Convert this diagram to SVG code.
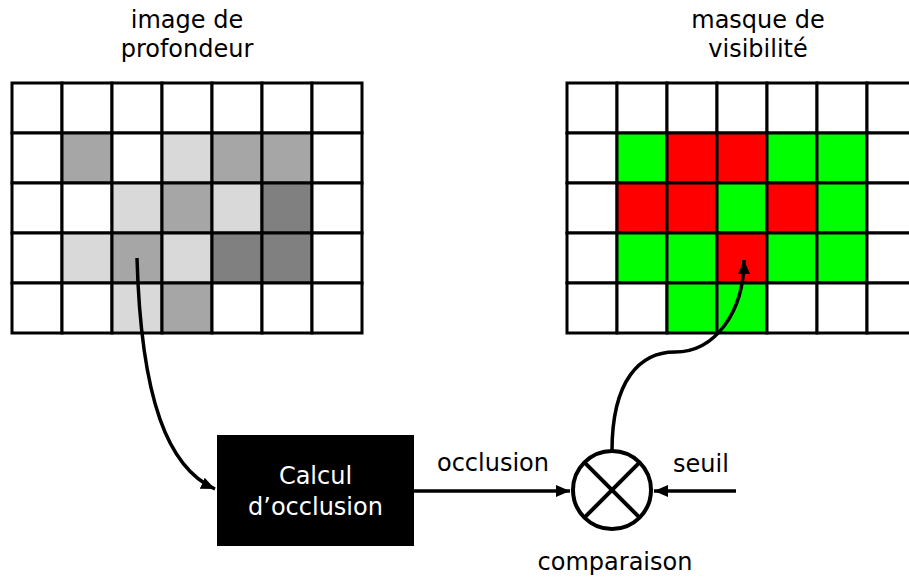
<svg xmlns="http://www.w3.org/2000/svg" width="909" height="578" viewBox="0 0 909 578">
<style>
text{font-family:"DejaVu Sans","Liberation Sans",sans-serif;font-size:24px;fill:#000}
.c{stroke:#000;stroke-width:3}
.w{fill:#fff}.l{fill:#d9d9d9}.m{fill:#a6a6a6}.d{fill:#808080}
.g{fill:#00ff00}.r{fill:#ff0000}
.conn{fill:none;stroke:#000;stroke-width:3.5}
</style>
<defs>
<marker id="ah" markerUnits="userSpaceOnUse" markerWidth="16" markerHeight="14" refX="14" refY="7" orient="auto">
<path d="M0,1 L14,7 L0,13 Z" fill="#000"/>
</marker>
<g id="row0">
<rect class="c w" x="0" y="0" width="50" height="50"/><rect class="c w" x="50" y="0" width="50" height="50"/><rect class="c w" x="100" y="0" width="50" height="50"/><rect class="c w" x="150" y="0" width="50" height="50"/><rect class="c w" x="200" y="0" width="50" height="50"/><rect class="c w" x="250" y="0" width="50" height="50"/><rect class="c w" x="300" y="0" width="50" height="50"/>
</g>
</defs>
<rect width="909" height="578" fill="#fff"/>

<g id="depth-image" transform="translate(12,83)">
<use href="#row0"/>
<rect class="c w" x="0" y="50" width="50" height="50"/><rect class="c m" x="50" y="50" width="50" height="50"/><rect class="c w" x="100" y="50" width="50" height="50"/><rect class="c l" x="150" y="50" width="50" height="50"/><rect class="c m" x="200" y="50" width="50" height="50"/><rect class="c m" x="250" y="50" width="50" height="50"/><rect class="c w" x="300" y="50" width="50" height="50"/>
<rect class="c w" x="0" y="100" width="50" height="50"/><rect class="c w" x="50" y="100" width="50" height="50"/><rect class="c l" x="100" y="100" width="50" height="50"/><rect class="c m" x="150" y="100" width="50" height="50"/><rect class="c l" x="200" y="100" width="50" height="50"/><rect class="c d" x="250" y="100" width="50" height="50"/><rect class="c w" x="300" y="100" width="50" height="50"/>
<rect class="c w" x="0" y="150" width="50" height="50"/><rect class="c l" x="50" y="150" width="50" height="50"/><rect class="c m" x="100" y="150" width="50" height="50"/><rect class="c l" x="150" y="150" width="50" height="50"/><rect class="c d" x="200" y="150" width="50" height="50"/><rect class="c d" x="250" y="150" width="50" height="50"/><rect class="c w" x="300" y="150" width="50" height="50"/>
<rect class="c w" x="0" y="200" width="50" height="50"/><rect class="c w" x="50" y="200" width="50" height="50"/><rect class="c l" x="100" y="200" width="50" height="50"/><rect class="c m" x="150" y="200" width="50" height="50"/><rect class="c w" x="200" y="200" width="50" height="50"/><rect class="c w" x="250" y="200" width="50" height="50"/><rect class="c w" x="300" y="200" width="50" height="50"/>
</g>
<g id="depth-title">
<text x="187" y="28" text-anchor="middle">image de</text>
<text x="187" y="57" text-anchor="middle">profondeur</text>
</g>

<g id="visibility-mask" transform="translate(567,83)">
<use href="#row0"/>
<rect class="c w" x="0" y="50" width="50" height="50"/><rect class="c g" x="50" y="50" width="50" height="50"/><rect class="c r" x="100" y="50" width="50" height="50"/><rect class="c r" x="150" y="50" width="50" height="50"/><rect class="c g" x="200" y="50" width="50" height="50"/><rect class="c g" x="250" y="50" width="50" height="50"/><rect class="c w" x="300" y="50" width="50" height="50"/>
<rect class="c w" x="0" y="100" width="50" height="50"/><rect class="c r" x="50" y="100" width="50" height="50"/><rect class="c r" x="100" y="100" width="50" height="50"/><rect class="c g" x="150" y="100" width="50" height="50"/><rect class="c r" x="200" y="100" width="50" height="50"/><rect class="c g" x="250" y="100" width="50" height="50"/><rect class="c w" x="300" y="100" width="50" height="50"/>
<rect class="c w" x="0" y="150" width="50" height="50"/><rect class="c g" x="50" y="150" width="50" height="50"/><rect class="c g" x="100" y="150" width="50" height="50"/><rect class="c r" x="150" y="150" width="50" height="50"/><rect class="c g" x="200" y="150" width="50" height="50"/><rect class="c g" x="250" y="150" width="50" height="50"/><rect class="c w" x="300" y="150" width="50" height="50"/>
<rect class="c w" x="0" y="200" width="50" height="50"/><rect class="c w" x="50" y="200" width="50" height="50"/><rect class="c g" x="100" y="200" width="50" height="50"/><rect class="c g" x="150" y="200" width="50" height="50"/><rect class="c w" x="200" y="200" width="50" height="50"/><rect class="c w" x="250" y="200" width="50" height="50"/><rect class="c w" x="300" y="200" width="50" height="50"/>
</g>
<g id="mask-title">
<text x="758" y="28" text-anchor="middle">masque de</text>
<text x="758" y="57" text-anchor="middle">visibilité</text>
</g>

<g id="occlusion-calc">
<rect x="217" y="435" width="197" height="111" fill="#000"/>
<text x="315.5" y="484" text-anchor="middle" style="fill:#fff">Calcul</text>
<text x="315.5" y="515" text-anchor="middle" style="fill:#fff">d’occlusion</text>
</g>

<g id="comparison">
<circle cx="612" cy="490" r="39" fill="#fff" stroke="#000" stroke-width="4"/>
<path d="M584.4,462.4 L639.6,517.6 M639.6,462.4 L584.4,517.6" stroke="#000" stroke-width="4"/>
<text x="615" y="570" text-anchor="middle">comparaison</text>
</g>

<g id="connectors">
<path class="conn" d="M137,258 C141,400 168,468 215,489" marker-end="url(#ah)"/>
<path class="conn" d="M414,491 L570,491" stroke-width="3" marker-end="url(#ah)"/>
<path class="conn" d="M736,491 L654,491" stroke-width="3" marker-end="url(#ah)"/>
<path class="conn" d="M612,451 C612,380 640,352 675,352 C715,352 744,312 744,260" marker-end="url(#ah)"/>
<text x="493" y="471" text-anchor="middle">occlusion</text>
<text x="701" y="472" text-anchor="middle">seuil</text>
</g>
</svg>
